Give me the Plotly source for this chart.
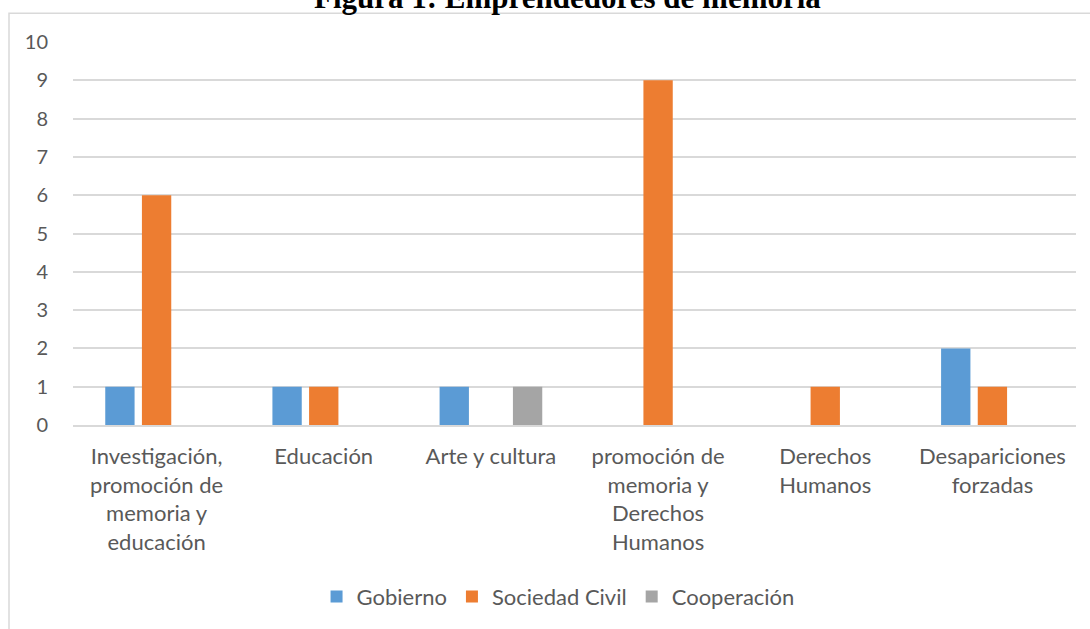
import plotly.graph_objects as go

categories = [
    "Investigación,<br>promoción de<br>memoria y<br>educación",
    "Educación",
    "Arte y cultura",
    "promoción de<br>memoria y<br>Derechos<br>Humanos",
    "Derechos<br>Humanos",
    "Desapariciones<br>forzadas",
]
gobierno = [1, 1, 1, 0, 0, 2]
sociedad_civil = [6, 1, 0, 9, 1, 1]
cooperacion = [0, 0, 1, 0, 0, 0]
y_ticks = list(range(0, 11))

FONT = "Lato"
TXT = "#595959"
GRID = "#D9D9D9"

fig = go.Figure()
for name, vals, col in [
    ("Gobierno", gobierno, "#5B9BD5"),
    ("Sociedad Civil", sociedad_civil, "#ED7D31"),
    ("Cooperación", cooperacion, "#A5A5A5"),
]:
    fig.add_trace(go.Bar(x=categories, y=vals, name=name,
                         marker=dict(color=col, line=dict(width=0))))

fig.update_layout(
    width=1090, height=629,
    margin=dict(l=73, r=14, t=42, b=201),
    paper_bgcolor="white", plot_bgcolor="white",
    barmode="group", bargap=0.342, bargroupgap=0.2,
    font=dict(family=FONT, size=22, color=TXT),
    showlegend=True,
    legend=dict(orientation="h", x=0.4836, xanchor="center", y=-0.448, yanchor="middle",
                font=dict(family=FONT, size=22, color=TXT), itemwidth=30,
                traceorder="normal"),
    xaxis=dict(showgrid=False, showline=True, linecolor=GRID, linewidth=1.5,
               ticks="outside", ticklen=11, tickcolor="rgba(0,0,0,0)",
               tickfont=dict(family=FONT, size=22, color=TXT), fixedrange=True),
    yaxis=dict(range=[0, 10], tickvals=y_ticks, showgrid=True, gridcolor=GRID, gridwidth=1.5,
               zeroline=False, showline=False,
               ticks="outside", ticklen=20, tickcolor="rgba(0,0,0,0)",
               tickfont=dict(family=FONT, size=20, color=TXT)),
    shapes=[dict(type="rect", xref="paper", yref="paper",
                 x0=-0.0638, x1=1.03, y0=-0.6, y1=1.0751,
                 line=dict(color=GRID, width=1.5), layer="below")],
    annotations=[dict(text="<b>Figura 1: Emprendedores de memoria</b>",
                      xref="paper", yref="paper", x=0.493, y=1.117,
                      xanchor="center", yanchor="middle", showarrow=False,
                      font=dict(family="Liberation Serif", size=31, color="black"))],
)

fig.write_html("out.html", config={"displayModeBar": False},
               post_script="document.body.style.margin='0';")
